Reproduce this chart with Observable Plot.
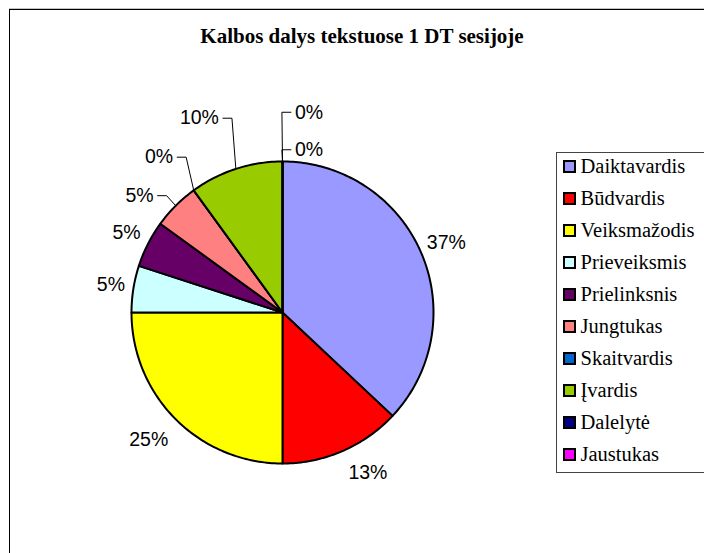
<!DOCTYPE html>
<html>
<head>
<meta charset="utf-8">
<script src="https://cdn.jsdelivr.net/npm/d3@7"></script>
<script src="https://cdn.jsdelivr.net/npm/@observablehq/plot@0.6"></script>
<style>
  html, body { margin: 0; padding: 0; background: #fff; }
  #wrap { position: relative; width: 704px; height: 553px; overflow: hidden; background: #fff; }
  #chart { position: absolute; left: 0; top: 0; }
  #grayline { position: absolute; left: 9px; top: 8px; width: 720px; height: 1px; background: #c4c4c4; }
  #frame { position: absolute; left: 9px; top: 9px; width: 800px; height: 700px;
           border-top: 1.5px solid #000; border-left: 1.5px solid #000; }
  #title { position: absolute; left: 0; top: 26.4px; width: 724px; text-align: center;
           font-family: "Liberation Serif", "Times New Roman", serif; font-weight: bold;
           font-size: 21px; line-height: 21px; color: #000; }
  #legendbox { position: absolute; left: 556px; top: 152px; width: 220px; height: 319px; border: 1px solid #444; }
  #legend { position: absolute; left: 564px; top: 150.2px; color: #000;
            font-family: "Liberation Serif", "Times New Roman", serif; font-size: 20.5px; line-height: 32px; }
  .item { height: 32px; display: flex; align-items: center; white-space: nowrap; }
  .sw { width: 9px; height: 9px; border: 2px solid #000; margin-left: -1px; margin-right: 4.5px; flex: none; }
</style>
</head>
<body>
<div id="wrap">
  <div id="chart"></div>
  <div id="grayline"></div>
  <div id="frame"></div>
  <div id="title">Kalbos dalys tekstuose 1 DT sesijoje</div>
  <div id="legendbox"></div>
  <div id="legend"></div>
</div>
<script>
// ---- data ----
const categories = ["Daiktavardis", "Būdvardis", "Veiksmažodis", "Prieveiksmis", "Prielinksnis",
                    "Jungtukas", "Skaitvardis", "Įvardis", "Dalelytė", "Jaustukas"];
const shares = [37, 13, 25, 5, 5, 5, 0, 10, 0, 0];
const colors = ["#9999FF", "#FF0000", "#FFFF00", "#CCFFFF", "#660066",
                "#FF8080", "#0066CC", "#99CC00", "#000080", "#FF00FF"];
const pctLabels = shares.map(v => v + "%");

// ---- layout (label placement tweaks, px) ----
const W = 704, H = 553, CX = 282, CY = 312, R = 151;
const labelFont = 19.5, labelGap = 8;
const labelNudge = [[0, -3], [14.5, 5.3], [-7.5, 8.2], [-0.6, -1.5], [-1.7, -2.8],
                    [-20.6, 2.5], [-21.7, -18.8], [-27.9, -33.8], [26.5, 6], [26.5, -31.5]];
const labelLeader = [false, false, false, false, false, true, true, true, true, true];

// ---- geometry from the data ----
const arcs = d3.pie().sort(null).value(d => d)(shares);

const slices = arcs.map((a, i) => {
  const span = a.endAngle - a.startAngle;
  const n = Math.max(2, Math.ceil(span / (Math.PI / 180)));
  const ring = [[0, 0]];
  for (let k = 0; k <= n; ++k) {
    const t = a.startAngle + span * k / n;
    ring.push([R * Math.sin(t), -R * Math.cos(t)]);
  }
  ring.push([0, 0]);
  return {type: "Feature", properties: {name: categories[i]},
          geometry: {type: "Polygon", coordinates: [ring]}};
});

const labels = arcs.map((a, i) => {
  const m = (a.startAngle + a.endAngle) / 2;
  const s = Math.sin(m), c = Math.cos(m);
  const text = pctLabels[i];
  const hw = labelFont * (0.556 * (text.length - 1) + 0.889) / 2;
  const hh = labelFont / 2;
  return {
    text, hw,
    x: (R + labelGap) * s + hw * s + labelNudge[i][0],
    y: -(R + labelGap) * c - hh * c + labelNudge[i][1],
    px: R * s, py: -R * c,
    leader: labelLeader[i]
  };
});

const leaders = labels.filter(d => d.leader).map(d => {
  const left = d.x < d.px;
  const sx = left ? d.x + d.hw + 4 : d.x - d.hw - 4;
  const ex = left ? sx + 9 : sx - 9;
  return {type: "Feature", properties: {},
          geometry: {type: "LineString", coordinates: [[sx, d.y], [ex, d.y], [d.px, d.py]]}};
});

const chart = Plot.plot({
  width: W, height: H,
  marginLeft: CX - R, marginTop: CY - R, marginRight: W - CX - R, marginBottom: H - CY - R,
  projection: {type: "identity", domain: {type: "MultiPoint", coordinates: [[-R, -R], [R, R]]}, clip: false},
  color: {type: "ordinal", domain: categories, range: colors},
  style: {background: "transparent", overflow: "visible"},
  marks: [
    Plot.geo(slices, {fill: d => d.properties.name, stroke: "#000", strokeWidth: 2, strokeLinejoin: "round"}),
    Plot.geo(leaders, {stroke: "#000", strokeWidth: 1, fill: "none"}),
    Plot.text(labels, {x: "x", y: "y", text: "text", fontSize: labelFont,
                       fontFamily: '"Liberation Sans", Arial, sans-serif', fill: "#000",
                       textAnchor: "middle", lineAnchor: "middle"})
  ]
});
document.getElementById("chart").appendChild(chart);

// legend built from the chart's own color scale
const colorScale = chart.scale("color");
const items = d3.select("#legend").selectAll("div.item")
  .data(colorScale.domain)
  .join("div").attr("class", "item");
items.append("div").attr("class", "sw").style("background", (d, i) => colorScale.range[i]);
items.append("span").text(d => d);
</script>
</body>
</html>
